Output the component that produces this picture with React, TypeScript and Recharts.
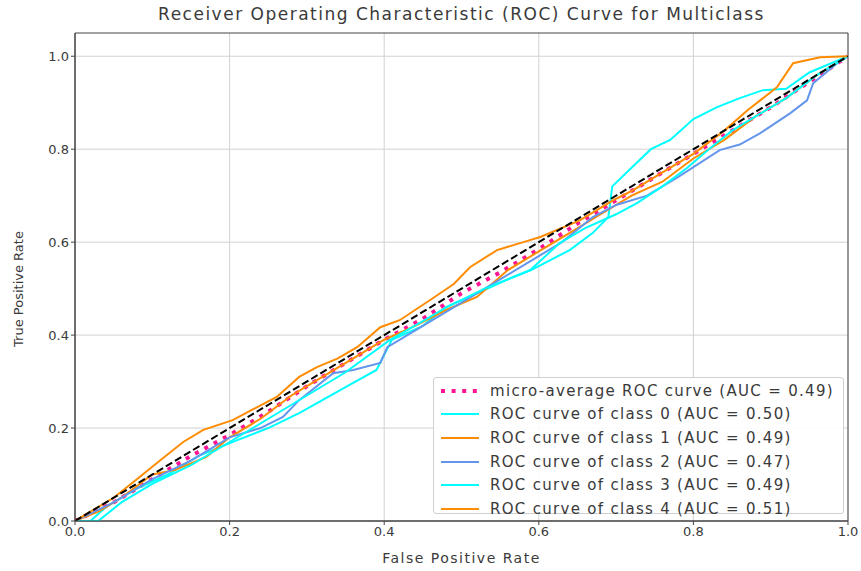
import React from "react";
import { LineChart, Line, XAxis, YAxis, CartesianGrid, Legend, ReferenceArea } from "recharts";

const title = "Receiver Operating Characteristic (ROC) Curve for Multiclass";
const xLabel = "False Positive Rate";
const yLabel = "True Positive Rate";
const tickValues = [0, 0.2, 0.4, 0.6, 0.8, 1.0];

const microFpr = [0, 0.05, 0.1, 0.15, 0.2, 0.25, 0.3, 0.35, 0.4, 0.45, 0.5, 0.55, 0.6, 0.65, 0.7, 0.75, 0.8, 0.85, 0.9, 0.95, 1];
const microTpr = [0, 0.04, 0.09, 0.14, 0.185, 0.235, 0.29, 0.34, 0.39, 0.435, 0.49, 0.535, 0.585, 0.64, 0.69, 0.74, 0.79, 0.84, 0.89, 0.945, 1];

const class0Fpr = [0, 0.02, 0.04, 0.08, 0.12, 0.16, 0.21, 0.25, 0.29, 0.32, 0.35, 0.39, 0.41, 0.45, 0.48, 0.52, 0.56, 0.59, 0.64, 0.67, 0.69, 0.695, 0.72, 0.745, 0.77, 0.8, 0.83, 0.86, 0.89, 0.92, 0.95, 1];
const class0Tpr = [0, 0, 0.03, 0.07, 0.1, 0.14, 0.174, 0.2, 0.232, 0.26, 0.288, 0.325, 0.39, 0.42, 0.46, 0.49, 0.52, 0.54, 0.583, 0.62, 0.654, 0.72, 0.76, 0.8, 0.82, 0.865, 0.89, 0.91, 0.927, 0.93, 0.965, 1];

const class1Fpr = [0, 0.03, 0.06, 0.1, 0.13, 0.17, 0.2, 0.24, 0.28, 0.32, 0.36, 0.4, 0.44, 0.48, 0.52, 0.56, 0.6, 0.64, 0.68, 0.72, 0.76, 0.8, 0.84, 0.88, 0.92, 0.96, 1];
const class1Tpr = [0, 0.02, 0.05, 0.1, 0.11, 0.138, 0.18, 0.22, 0.27, 0.31, 0.35, 0.39, 0.42, 0.454, 0.482, 0.54, 0.58, 0.62, 0.66, 0.7, 0.73, 0.78, 0.82, 0.87, 0.91, 0.96, 1];

const class2Fpr = [0, 0.05, 0.1, 0.15, 0.2, 0.24, 0.269, 0.29, 0.334, 0.36, 0.395, 0.404, 0.45, 0.5, 0.55, 0.6, 0.63, 0.67, 0.7, 0.74, 0.78, 0.834, 0.86, 0.886, 0.925, 0.947, 0.955, 0.986, 1];
const class2Tpr = [0, 0.04, 0.09, 0.13, 0.18, 0.2, 0.224, 0.26, 0.318, 0.325, 0.34, 0.374, 0.42, 0.47, 0.52, 0.57, 0.6, 0.654, 0.68, 0.7, 0.74, 0.798, 0.81, 0.834, 0.877, 0.905, 0.942, 0.985, 1];

const class3Fpr = [0, 0.03, 0.06, 0.1, 0.15, 0.2, 0.25, 0.3, 0.35, 0.407, 0.45, 0.481, 0.53, 0.589, 0.627, 0.66, 0.7, 0.727, 0.76, 0.792, 0.82, 0.85, 0.88, 0.92, 0.96, 1];
const class3Tpr = [0, 0, 0.04, 0.08, 0.12, 0.17, 0.22, 0.27, 0.32, 0.389, 0.43, 0.46, 0.5, 0.54, 0.598, 0.63, 0.66, 0.684, 0.72, 0.76, 0.8, 0.84, 0.87, 0.91, 0.96, 1];

const class4Fpr = [0, 0.02, 0.05, 0.08, 0.11, 0.14, 0.166, 0.204, 0.23, 0.261, 0.29, 0.313, 0.34, 0.365, 0.395, 0.42, 0.459, 0.49, 0.511, 0.546, 0.58, 0.602, 0.653, 0.696, 0.72, 0.76, 0.8, 0.84, 0.87, 0.908, 0.929, 0.964, 1];
const class4Tpr = [0, 0.02, 0.05, 0.09, 0.13, 0.17, 0.196, 0.217, 0.24, 0.267, 0.31, 0.331, 0.35, 0.374, 0.417, 0.432, 0.475, 0.51, 0.546, 0.583, 0.6, 0.611, 0.647, 0.69, 0.71, 0.75, 0.79, 0.84, 0.884, 0.933, 0.985, 0.998, 1];

const diagFpr = [0, 1];
const diagTpr = [0, 1];

const legendLabels = [
  "micro-average ROC curve (AUC = 0.49)",
  "ROC curve of class 0 (AUC = 0.50)",
  "ROC curve of class 1 (AUC = 0.49)",
  "ROC curve of class 2 (AUC = 0.47)",
  "ROC curve of class 3 (AUC = 0.49)",
  "ROC curve of class 4 (AUC = 0.51)",
];

const toPoints = (xs: number[], ys: number[]) => xs.map((x, i) => ({ x, y: ys[i] }));

const series = [
  { name: legendLabels[0], data: toPoints(microFpr, microTpr), color: "#ff1493", width: 4, dash: "4 6.6" },
  { name: legendLabels[1], data: toPoints(class0Fpr, class0Tpr), color: "#00ffff", width: 2, dash: undefined },
  { name: legendLabels[2], data: toPoints(class1Fpr, class1Tpr), color: "#ff8c00", width: 2, dash: undefined },
  { name: legendLabels[3], data: toPoints(class2Fpr, class2Tpr), color: "#6495ed", width: 2, dash: undefined },
  { name: legendLabels[4], data: toPoints(class3Fpr, class3Tpr), color: "#00ffff", width: 2, dash: undefined },
  { name: legendLabels[5], data: toPoints(class4Fpr, class4Tpr), color: "#ff8c00", width: 2, dash: undefined },
];

const FONT = "'DejaVu Sans', sans-serif";
const TEXT = "#3a3a3a";

const LegendBox = () => (
  <div
    style={{
      background: "rgba(255,255,255,0.9)",
      border: "1px solid #d0d0d0",
      borderRadius: 3,
      width: 411,
      height: 137,
      boxSizing: "border-box",
      padding: "1px 0 0 5px",
      fontFamily: FONT,
      fontSize: 15,
      color: TEXT,
    }}
  >
    {series.map((s) => (
      <div key={s.name} style={{ height: 23.6, display: "flex", alignItems: "center" }}>
        <svg width={42} height={10} style={{ marginRight: 9 }}>
          <line
            x1={2}
            y1={5}
            x2={40}
            y2={5}
            stroke={s.color}
            strokeWidth={s.width === 4 ? 4 : 2}
            strokeDasharray={s.dash}
          />
        </svg>
        <span style={{ whiteSpace: "nowrap", letterSpacing: 1.3 }}>{s.name}</span>
      </div>
    ))}
  </div>
);

export default function App() {
  return (
    <div style={{ position: "absolute", left: 0, top: 0, width: 861, height: 571, background: "#fff" }}>
      <div
        style={{
          position: "absolute",
          left: 75,
          width: 773,
          top: 4,
          textAlign: "center",
          fontFamily: FONT,
          fontSize: 17,
          color: TEXT,
          letterSpacing: 1.5,
        }}
      >
        {title}
      </div>
      <div
        style={{
          position: "absolute",
          left: 75,
          width: 773,
          top: 550,
          textAlign: "center",
          fontFamily: FONT,
          fontSize: 14,
          color: TEXT,
          letterSpacing: 1.5,
        }}
      >
        {xLabel}
      </div>
      <div
        style={{
          position: "absolute",
          left: 18,
          top: 289,
          transform: "translate(-50%, -50%) rotate(-90deg)",
          whiteSpace: "nowrap",
          fontFamily: FONT,
          fontSize: 13,
          color: TEXT,
        }}
      >
        {yLabel}
      </div>
      <LineChart width={861} height={571} margin={{ top: 33, right: 13, bottom: 0, left: 0 }}>
        <CartesianGrid stroke="#d2d2d2" strokeWidth={1} horizontalValues={tickValues} verticalValues={tickValues} />
        <XAxis
          type="number"
          dataKey="x"
          domain={[0, 1]}
          ticks={tickValues}
          tickFormatter={(v: number) => v.toFixed(1)}
          height={50}
          tickSize={4}
          stroke="#444"
          tick={{ fontSize: 13, fill: TEXT, fontFamily: FONT }}
          allowDataOverflow
        />
        <YAxis
          type="number"
          dataKey="y"
          domain={[0, 1.05]}
          ticks={tickValues}
          tickFormatter={(v: number) => v.toFixed(1)}
          width={75}
          tickSize={4}
          stroke="#444"
          tick={{ fontSize: 13, fill: TEXT, fontFamily: FONT }}
          allowDataOverflow
        />
        <ReferenceArea x1={0} x2={1} y1={0} y2={1.05} fill="none" stroke="#444" strokeWidth={1} />
        {series.map((s) => (
          <Line
            key={s.name}
            data={s.data}
            dataKey="y"
            name={s.name}
            type="linear"
            stroke={s.color}
            strokeWidth={s.width}
            strokeDasharray={s.dash}
            dot={false}
            activeDot={false}
            isAnimationActive={false}
          />
        ))}
        <Line
          data={toPoints(diagFpr, diagTpr)}
          dataKey="y"
          name="chance"
          legendType="none"
          type="linear"
          stroke="#000"
          strokeWidth={2}
          strokeDasharray="7.4 3.2"
          dot={false}
          activeDot={false}
          isAnimationActive={false}
        />
        <Legend
          layout="vertical"
          align="center"
          verticalAlign="middle"
          wrapperStyle={{ left: 433, top: 377, width: 411 }}
          content={() => <LegendBox />}
        />
      </LineChart>
    </div>
  );
}
